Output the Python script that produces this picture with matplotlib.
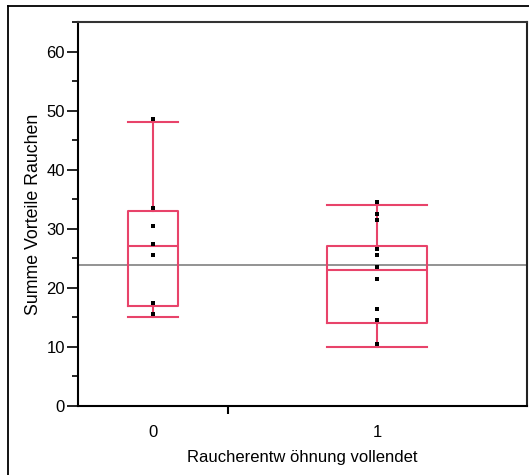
import matplotlib.pyplot as plt
from matplotlib.lines import Line2D
from matplotlib.ticker import MultipleLocator

plt.rcParams['font.family'] = ['Liberation Sans', 'DejaVu Sans']

# data
groups = ['0', '1']
group_n = [7, 14]
points_0 = [48.5, 33.5, 30.5, 27.5, 25.5, 17.5, 15.5]
points_1 = [34.5, 32.5, 31.5, 26.5, 25.5, 23.5, 21.5, 16.5, 14.5, 10.5]
box_lo = [15, 10]
box_q1 = [17, 14]
box_med = [27, 23]
box_q3 = [33, 27]
box_hi = [48, 34]
grand_mean = 23.8

red = '#E8436A'

fig = plt.figure(figsize=(5.29, 4.75), dpi=100)
ax = fig.add_axes([78/529, 69/475, 449/529, 384/475])

# category slots proportional to group size
starts = [0, group_n[0]]
centers = [s + n/2 for s, n in zip(starts, group_n)]
widths = [n/3 for n in group_n]

stats = []
for i in range(len(groups)):
    stats.append(dict(whislo=box_lo[i], q1=box_q1[i], med=box_med[i],
                      q3=box_q3[i], whishi=box_hi[i], label=groups[i]))
style = dict(color=red, linewidth=1.5)
ax.bxp(stats, positions=centers, widths=widths, showfliers=False,
       boxprops=style, whiskerprops=style, capprops=style, medianprops=style,
       capwidths=widths, manage_ticks=False)

ax.axhline(grand_mean, color='#8a8a8a', linewidth=1.3, zorder=1)

for c, pts in zip(centers, [points_0, points_1]):
    ax.plot([c]*len(pts), pts, 's', color='black', markersize=2.3,
            markeredgewidth=0, zorder=5)

ax.set_xlim(0, sum(group_n))
ax.set_ylim(0, 65)
ax.yaxis.set_major_locator(MultipleLocator(10))
ax.yaxis.set_minor_locator(MultipleLocator(5))
ax.tick_params(axis='y', which='major', length=8, width=1.2, labelsize=12, pad=1.5)
ax.tick_params(axis='y', which='minor', length=4, width=1.2)

ax.set_xticks(centers)
ax.set_xticklabels(groups)
ax.set_xticks([group_n[0]], minor=True)
ax.tick_params(axis='x', which='major', length=0, labelsize=12, pad=14)
ax.tick_params(axis='x', which='minor', length=6, width=1.5)

for s in ax.spines.values():
    s.set_linewidth(1.5)
ax.spines['top'].set_color('#333333')
ax.spines['right'].set_color('#222222')

ax.set_ylabel('Summe Vorteile Rauchen', fontsize=12.8, labelpad=3)
ax.set_xlabel('Raucherentw öhnung vollendet', fontsize=12, labelpad=7)

# outer frame (left and top edges visible)
fig.add_artist(Line2D([8/529, 8/529], [0, 1 - 6/475], color='black', linewidth=1.3,
                      transform=fig.transFigure))
fig.add_artist(Line2D([8/529, 1], [1 - 6/475, 1 - 6/475], color='black', linewidth=1.3,
                      transform=fig.transFigure))

fig.savefig('out.png', dpi=100)
